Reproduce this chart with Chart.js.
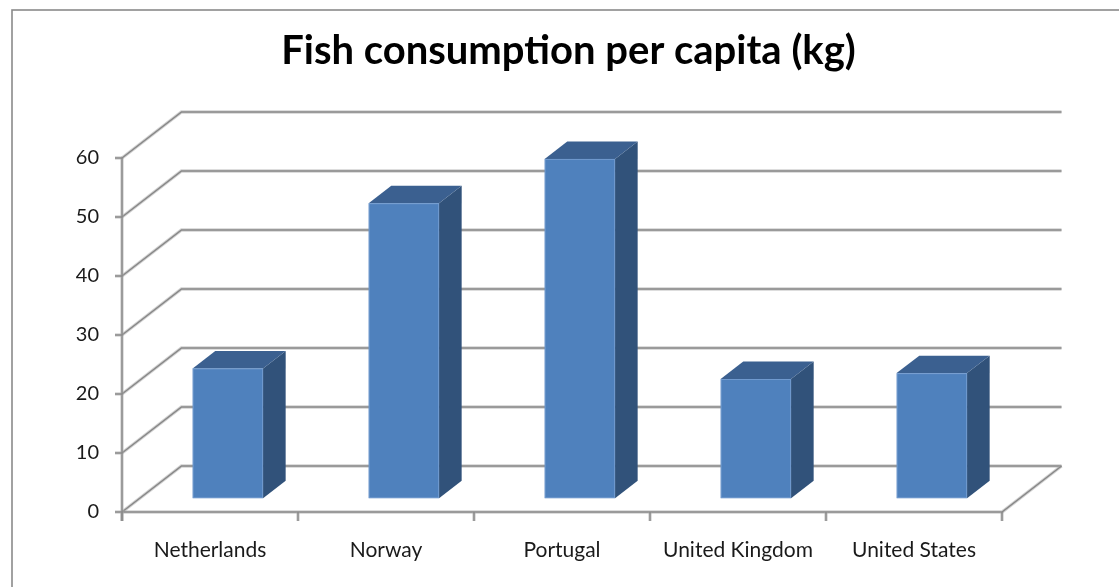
<!DOCTYPE html>
<html><head><meta charset="utf-8">
<script src="https://cdn.jsdelivr.net/npm/chart.js@4.4.0/dist/chart.umd.min.js"></script>
<style>html,body{margin:0;padding:0;background:#fff;overflow:hidden}</style>
</head><body>
<canvas id="c" width="1119" height="587"></canvas>
<script>
const categories = ["Netherlands", "Norway", "Portugal", "United Kingdom", "United States"];
const consumption = [22, 50, 57.5, 20.2, 21.2];
const yTickMin = 0, yTickMax = 60, yTickStep = 10;
const chartTitle = "Fish consumption per capita (kg)";

// 3D look (styling only)
const DX = 59.5, DY = -46;
const BAR_FRONT = 0.30, BAR_BACK = 0.68;

function haloLine(ctx, pts) {
  ctx.beginPath();
  ctx.moveTo(pts[0][0], pts[0][1]);
  for (let i = 1; i < pts.length; i++) ctx.lineTo(pts[i][0], pts[i][1]);
  ctx.lineWidth = 3.4; ctx.strokeStyle = 'rgba(165,165,165,0.5)'; ctx.stroke();
  ctx.lineWidth = 1.5; ctx.strokeStyle = '#888888'; ctx.stroke();
}

const wall3d = {
  id: 'wall3d',
  beforeDraw(chart) {
    const ctx = chart.ctx;
    ctx.save();
    ctx.fillStyle = '#fff'; ctx.fillRect(0, 0, chart.width, chart.height);
    ctx.strokeStyle = '#8a8a8a'; ctx.lineWidth = 1.6;
    ctx.strokeRect(12, 10, 3000, 3000);
    ctx.restore();
  },
  beforeDatasetsDraw(chart) {
    const ctx = chart.ctx;
    const xs = chart.scales.x, ys = chart.scales.y;
    const L = chart.chartArea.left, R = chart.chartArea.right;
    const B = ys.getPixelForValue(yTickMin), T = ys.getPixelForValue(yTickMax);
    ctx.save();
    ctx.lineCap = 'butt';
    ys.ticks.forEach(t => {
      const y = ys.getPixelForValue(t.value);
      haloLine(ctx, [[L, y], [L + DX, y + DY], [R + DX, y + DY]]);
    });
    haloLine(ctx, [[L, B], [R, B], [R + DX, B + DY]]);
    haloLine(ctx, [[L, T], [L, B + 9]]);
    ys.ticks.forEach(t => {
      const y = ys.getPixelForValue(t.value);
      haloLine(ctx, [[L - 7, y], [L, y]]);
    });
    for (let i = 0; i <= categories.length; i++) {
      const x = xs.getPixelForValue(i - 0.5);
      haloLine(ctx, [[x, B], [x, B + 9]]);
    }
    const meta = chart.getDatasetMeta(0);
    const ox1 = BAR_FRONT * DX, oy1 = BAR_FRONT * DY;
    const ox2 = BAR_BACK * DX, oy2 = BAR_BACK * DY;
    meta.data.forEach(el => {
      const p = el.getProps(['x', 'y', 'base', 'width'], true);
      const xl = p.x - p.width / 2, xr = p.x + p.width / 2;
      const top = p.y, bot = p.base;
      ctx.beginPath();
      ctx.moveTo(xr + ox1, top + oy1);
      ctx.lineTo(xr + ox2, top + oy2);
      ctx.lineTo(xr + ox2, bot + oy2);
      ctx.lineTo(xr + ox1, bot + oy1);
      ctx.closePath();
      ctx.fillStyle = '#31527a'; ctx.fill();
      ctx.beginPath();
      ctx.moveTo(xl + ox1, top + oy1);
      ctx.lineTo(xl + ox2, top + oy2);
      ctx.lineTo(xr + ox2, top + oy2);
      ctx.lineTo(xr + ox1, top + oy1);
      ctx.closePath();
      ctx.fillStyle = '#3b6090'; ctx.fill();
      ctx.fillStyle = '#4f81bd';
      ctx.fillRect(xl + ox1, top + oy1, p.width, bot - top);
      ctx.strokeStyle = 'rgba(140,175,220,0.55)'; ctx.lineWidth = 1;
      ctx.strokeRect(xl + ox1 + 0.5, top + oy1 + 0.5, p.width - 1, bot - top - 1);
    });
    ctx.restore();
    return false;
  }
};

new Chart(document.getElementById('c'), {
  type: 'bar',
  data: {
    labels: categories,
    datasets: [{ label: chartTitle, data: consumption, backgroundColor: '#4f81bd',
      categoryPercentage: 1.0, barPercentage: 0.4 }]
  },
  options: {
    responsive: false,
    animation: false,
    layout: { padding: { left: 18, right: 0, top: 0, bottom: 0 } },
    plugins: {
      legend: { display: false },
      tooltip: { enabled: false },
      title: {
        display: true, text: chartTitle, color: '#000',
        font: { family: 'Lato', weight: 'bold', size: 40, lineHeight: 1.2 },
        padding: { top: 27, bottom: 83 }
      }
    },
    scales: {
      x: {
        grid: { display: false, drawTicks: false },
        border: { display: false },
        ticks: { color: '#1a1a1a', font: { family: 'Lato', size: 21 }, padding: 26, maxRotation: 0 },
        afterFit(s) { s.height = 75; }
      },
      y: {
        min: yTickMin, max: yTickMax,
        grid: { display: false, drawTicks: false },
        border: { display: false },
        ticks: { stepSize: yTickStep, color: '#1a1a1a', font: { family: 'Lato', size: 20 }, padding: 23 },
        afterFit(s) { s.width = 104; }
      },
      yRight: {
        position: 'right', min: yTickMin, max: yTickMax,
        grid: { display: false, drawTicks: false },
        border: { display: false },
        ticks: { display: false },
        afterFit(s) { s.width = 117; }
      }
    }
  },
  plugins: [wall3d]
});
</script>
</body></html>
